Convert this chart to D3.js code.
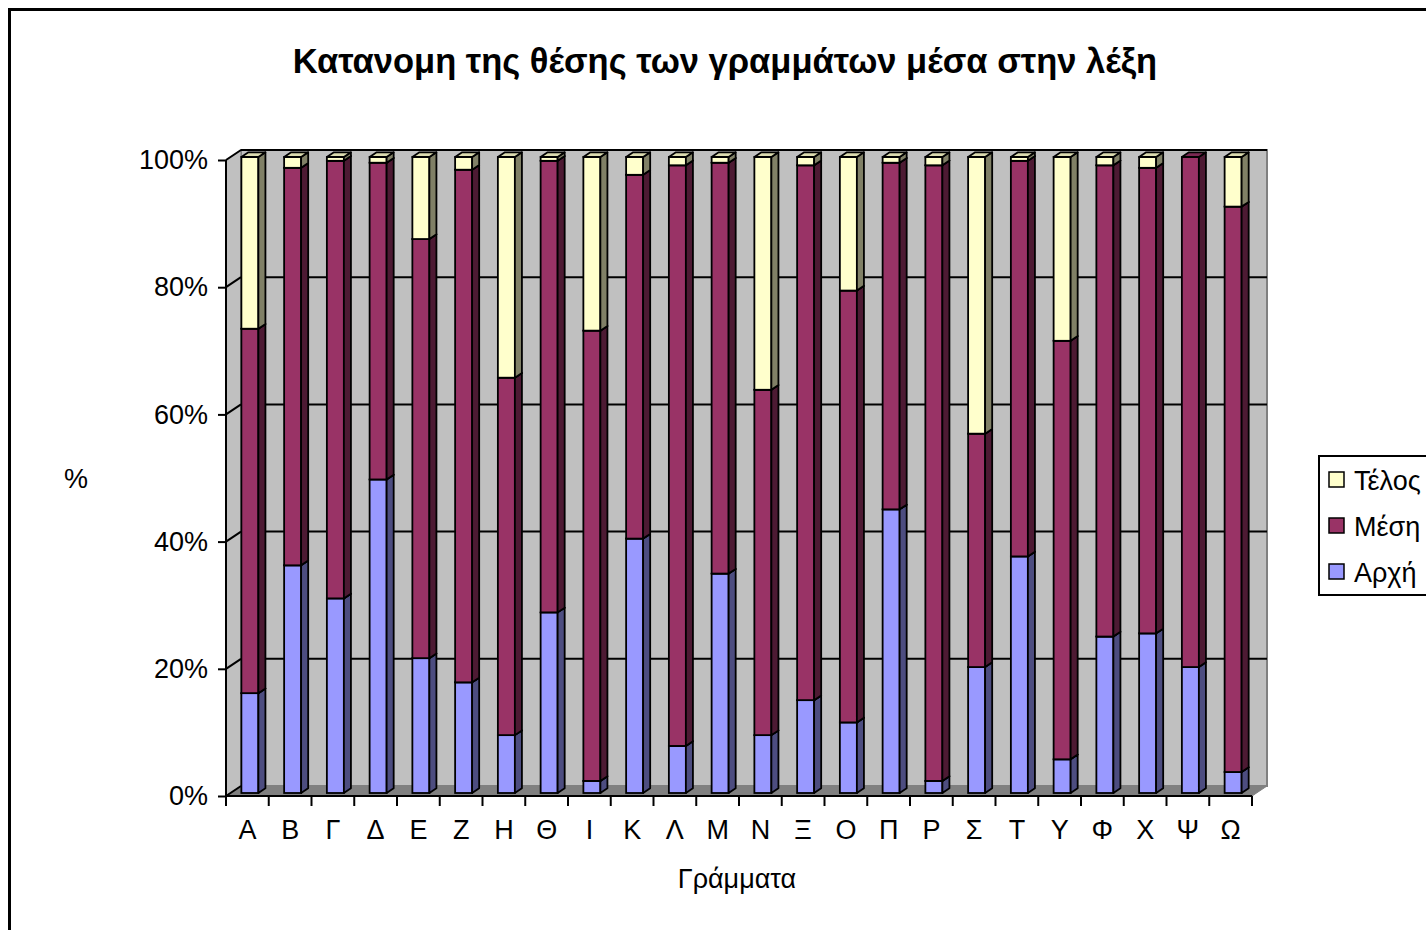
<!DOCTYPE html>
<html>
<head>
<meta charset="utf-8">
<script src="https://cdn.jsdelivr.net/npm/d3@7"></script>
<style>
  body { margin: 0; background: #fff; }
  text { font-family: "Liberation Sans", Arial, sans-serif; fill: #000; }
</style>
</head>
<body>
<div id="chart"></div>
<script>
// letters and the three stacked shares (percent)
var letters = ["Α","Β","Γ","Δ","Ε","Ζ","Η","Θ","Ι","Κ","Λ","Μ","Ν","Ξ","Ο","Π","Ρ","Σ","Τ","Υ","Φ","Χ","Ψ","Ω"];
var arxi  = [15.7, 35.8, 30.6, 49.3, 21.2, 17.4,  9.1, 28.4,  1.9, 40.0,  7.4, 34.5,  9.1, 14.6, 11.1, 44.6,  1.9, 19.8, 37.2,  5.3, 24.6, 25.1, 19.8,  3.3];
var mesi  = [57.3, 62.5, 68.8, 49.8, 65.9, 80.6, 56.2, 71.0, 70.8, 57.2, 91.3, 64.6, 54.3, 84.1, 67.9, 54.5, 96.8, 36.7, 62.2, 65.8, 74.1, 73.2, 80.2, 88.9];
var telos = letters.map(function(d, i){ return Math.max(0, 100 - arxi[i] - mesi[i]); });
var yTicks = [0, 20, 40, 60, 80, 100];
var seriesNames = ["Αρχή", "Μέση", "Τέλος"];
var colors = {
  "Αρχή":  {front: "#9999ff", side: "#4d4d80", top: "#7a7acc"},
  "Μέση":  {front: "#993366", side: "#4d1a33", top: "#7a2952"},
  "Τέλος": {front: "#ffffcc", side: "#808066", top: "#dcdcb0"}
};

var W = 1426, H = 930;
var x0 = 226, x1 = 1252, yBot = 796, yTop = 160;
var DX = 15, DY = -10;  // depth of the plot box

var svg = d3.select("#chart").append("svg").attr("width", W).attr("height", H);

// outer chart border (cut off at right and bottom like the original)
svg.append("rect").attr("x", 9.5).attr("y", 9.5).attr("width", 1440).attr("height", 940)
  .attr("fill", "none").attr("stroke", "#000").attr("stroke-width", 3);

var xScale = d3.scaleBand().domain(letters).range([x0, x1]);
var yScale = d3.scaleLinear().domain([0, 100]).range([yBot, yTop]);

// walls
svg.append("polygon")
  .attr("points", [[x0 + DX, yTop + DY], [x1 + DX, yTop + DY], [x1 + DX, yBot + DY], [x0 + DX, yBot + DY]].join(" "))
  .attr("fill", "#c0c0c0").attr("stroke", "#808080").attr("stroke-width", 2);
svg.append("polygon")
  .attr("points", [[x0, yTop], [x0 + DX, yTop + DY], [x0 + DX, yBot + DY], [x0, yBot]].join(" "))
  .attr("fill", "#c0c0c0").attr("stroke", "#808080").attr("stroke-width", 1);
// floor
svg.append("polygon")
  .attr("points", [[x0, yBot], [x0 + DX, yBot + DY], [x1 + DX, yBot + DY], [x1, yBot]].join(" "))
  .attr("fill", "#808080").attr("stroke", "#808080");

// gridlines
yTicks.forEach(function(t) {
  var yy = yScale(t);
  if (t > 0) {
    svg.append("line").attr("x1", x0 + DX).attr("x2", x1 + DX).attr("y1", yy + DY).attr("y2", yy + DY)
      .attr("stroke", "#000").attr("stroke-width", 2);
  }
  svg.append("line").attr("x1", x0).attr("x2", x0 + DX).attr("y1", yy).attr("y2", yy + DY)
    .attr("stroke", "#000").attr("stroke-width", 2);
});

// bars
var bw = xScale.bandwidth();
var barW = 17, fShift = 0.3, bDepth = 0.47;
var sx = DX * fShift, sy = DY * fShift;
var ddx = DX * bDepth, ddy = DY * bDepth;
var stacks = letters.map(function(l, i) {
  var vals = [arxi[i], mesi[i], telos[i]];
  var acc = 0;
  return vals.map(function(v, k) {
    var seg = {letter: l, name: seriesNames[k], y0: acc, y1: acc + v};
    acc += v;
    return seg;
  }).filter(function(s){ return s.y1 - s.y0 > 0.01; });
});

var g = svg.append("g");
stacks.forEach(function(segs) {
  segs.forEach(function(s) {
    var bx = xScale(s.letter) + (bw - barW) / 2 - 2 + sx;
    var yb = yScale(s.y0) + sy, yt = yScale(s.y1) + sy;
    var c = colors[s.name];
    g.append("rect").attr("x", bx).attr("y", yt).attr("width", barW).attr("height", yb - yt)
      .attr("fill", c.front).attr("stroke", "#000").attr("stroke-width", 1.8);
    g.append("polygon")
      .attr("points", [[bx + barW, yt], [bx + barW + ddx, yt + ddy], [bx + barW + ddx, yb + ddy], [bx + barW, yb]].join(" "))
      .attr("fill", c.side).attr("stroke", "#000").attr("stroke-width", 1.8).attr("stroke-linejoin", "round");
    g.append("polygon")
      .attr("points", [[bx, yt], [bx + ddx, yt + ddy], [bx + barW + ddx, yt + ddy], [bx + barW, yt]].join(" "))
      .attr("fill", c.top).attr("stroke", "#000").attr("stroke-width", 1.8).attr("stroke-linejoin", "round");
  });
});

// axes
var yAxis = d3.axisLeft(yScale).tickValues(yTicks).tickSize(8).tickPadding(10)
  .tickFormat(function(d){ return d + "%"; });
var ya = svg.append("g").attr("transform", "translate(" + x0 + ",0)").call(yAxis);
ya.selectAll("path, line").attr("stroke", "#000").attr("stroke-width", 2);
ya.select(".domain").attr("d", "M0," + yTop + "V" + yBot);
ya.selectAll("text").style("font-size", "27px").attr("font-family", "Liberation Sans, Arial, sans-serif");

var xAxis = d3.axisBottom(xScale).tickSize(0).tickPadding(24);
var xa = svg.append("g").attr("transform", "translate(0," + yBot + ")").call(xAxis);
xa.select(".domain").attr("stroke", "#000").attr("stroke-width", 2).attr("d", "M" + x0 + ",0H" + x1);
xa.selectAll("text").style("font-size", "27px").attr("font-family", "Liberation Sans, Arial, sans-serif");
// category boundary ticks
xa.selectAll(".sep").data(letters.concat(["end"])).enter().append("line")
  .attr("x1", function(d, i){ return x0 + i * bw; })
  .attr("x2", function(d, i){ return x0 + i * bw; })
  .attr("y1", 0).attr("y2", 10).attr("stroke", "#000").attr("stroke-width", 2);

// titles
svg.append("text").attr("x", 725).attr("y", 73).attr("text-anchor", "middle")
  .style("font-size", "34.5px").style("font-weight", "bold")
  .text("Κατανομη της θέσης των γραμμάτων μέσα στην λέξη");
svg.append("text").attr("x", 76).attr("y", 488).attr("text-anchor", "middle")
  .style("font-size", "27px").text("%");
svg.append("text").attr("x", 737).attr("y", 888).attr("text-anchor", "middle")
  .style("font-size", "27px").text("Γράμματα");

// legend
var lg = svg.append("g");
lg.append("rect").attr("x", 1319).attr("y", 456).attr("width", 140).attr("height", 139)
  .attr("fill", "#fff").attr("stroke", "#000").attr("stroke-width", 2);
var legendOrder = ["Τέλος", "Μέση", "Αρχή"];
legendOrder.forEach(function(n, i) {
  var yy = 480 + i * 46;
  lg.append("rect").attr("x", 1329).attr("y", yy - 8).attr("width", 15).attr("height", 15)
    .attr("fill", colors[n].front).attr("stroke", "#000").attr("stroke-width", 1.5);
  lg.append("text").attr("x", 1354).attr("y", yy + 10).style("font-size", "27px").text(n);
});
</script>
</body>
</html>
